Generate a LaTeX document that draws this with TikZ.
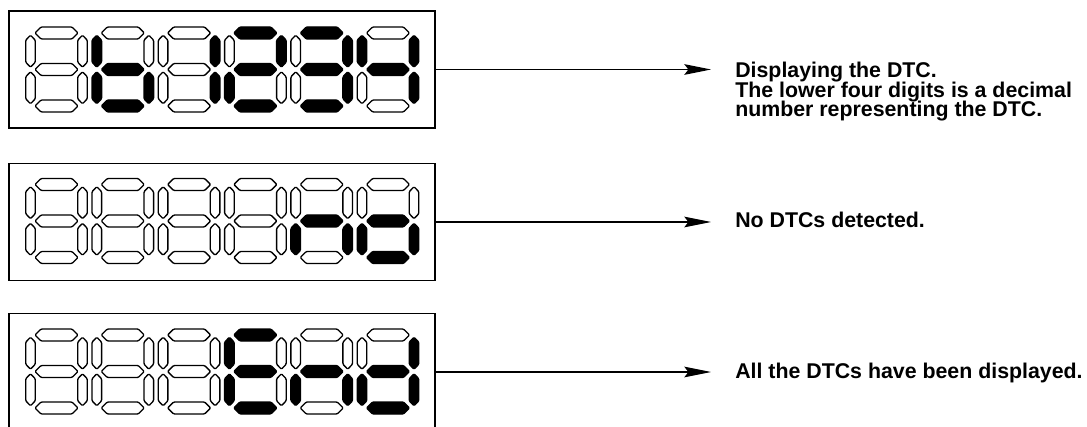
\documentclass[tikz,border=0pt]{standalone}
\usepackage{fontspec}
\setmainfont{Liberation Sans}
\usetikzlibrary{arrows.meta}
\tikzset{
  seg/.style={draw=black, line width=1pt, fill=white, rounded corners=0.8pt, line join=round},
  segon/.style={seg, fill=black},
  s0/.style={seg},
  s1/.style={segon},
  panel/.style={draw, line width=1.1pt, minimum width=319.5pt, minimum height=87.75pt, inner sep=0pt},
  lbl/.style={font=\fontsize{16}{14}\selectfont\bfseries, inner sep=0pt, anchor=base west},
  arr/.style={line width=0.9pt, shorten >=18pt, -{Stealth[length=20pt, width=8pt, inset=3pt]}}
}
\newcommand\hseg[3]{\path[#3, shift={(#1,#2)}] (-21.5,0) -- (-15.5,-6) -- (15.5,-6) -- (21.5,0) -- (15.5,6) -- (-15.5,6) -- cycle;}
\newcommand\vseg[3]{\path[#3, shift={(#1,#2)}] (0,-16) -- (4.8,-11) -- (4.8,11) -- (0,16) -- (-4.8,11) -- (-4.8,-11) -- cycle;}
\def\digitA#1#2#3#4#5#6#7\relax{%
  \hseg{\dgx}{\dgy-36.5}{s#1}%
  \vseg{\dgx+26}{\dgy-18.3}{s#2}%
  \vseg{\dgx+26}{\dgy+18.3}{s#3}%
  \hseg{\dgx}{\dgy+36.5}{s#4}%
  \vseg{\dgx-26}{\dgy+18.3}{s#5}%
  \vseg{\dgx-26}{\dgy-18.3}{s#6}%
  \hseg{\dgx}{\dgy}{s#7}}
\newcommand\sevdigit[3]{\def\dgx{#1}\def\dgy{#2}\digitA#3\relax}
\newcommand\panelrow[7]{% y, six digit codes
  \sevdigit{56.5}{#1}{#2}\sevdigit{122.8}{#1}{#3}\sevdigit{189.1}{#1}{#4}%
  \sevdigit{255.4}{#1}{#5}\sevdigit{321.7}{#1}{#6}\sevdigit{388}{#1}{#7}}
\begin{document}
\begin{tikzpicture}[x=0.75pt, y=-0.75pt]
\useasboundingbox (0,0) rectangle (1087,427);
\clip (0,0) rectangle (1087,427);
% panels
\node[panel] (box1) at (222,69.5) {};
\node[panel] (box2) at (222,222) {};
\node[panel] (box3) at (222,372) {};
% digits
\panelrow{69.5}{0000000}{0011111}{0110000}{1101101}{1111001}{0110011}
\panelrow{221}{0000000}{0000000}{0000000}{0000000}{0010101}{0011101}
\panelrow{371.5}{0000000}{0000000}{0000000}{1001111}{0010101}{0111101}
% labels
\node[lbl] (t1) at (735,78) {\vtop{\baselineskip=14.5pt\lineskiplimit=-100pt
  \hbox{Displaying the DTC.}\hbox{The lower four digits is a decimal}\hbox{number representing the DTC.}}};
\node[lbl] (t2) at (735,228) {No DTCs detected.};
\node[lbl] (t3) at (735,378) {All the DTCs have been displayed.};
% arrows
\draw[arr] (box1.east) -- (box1.east -| t1.west);
\draw[arr] (box2.east) -- (box2.east -| t2.west);
\draw[arr] (box3.east) -- (box3.east -| t3.west);
\end{tikzpicture}
\end{document}
